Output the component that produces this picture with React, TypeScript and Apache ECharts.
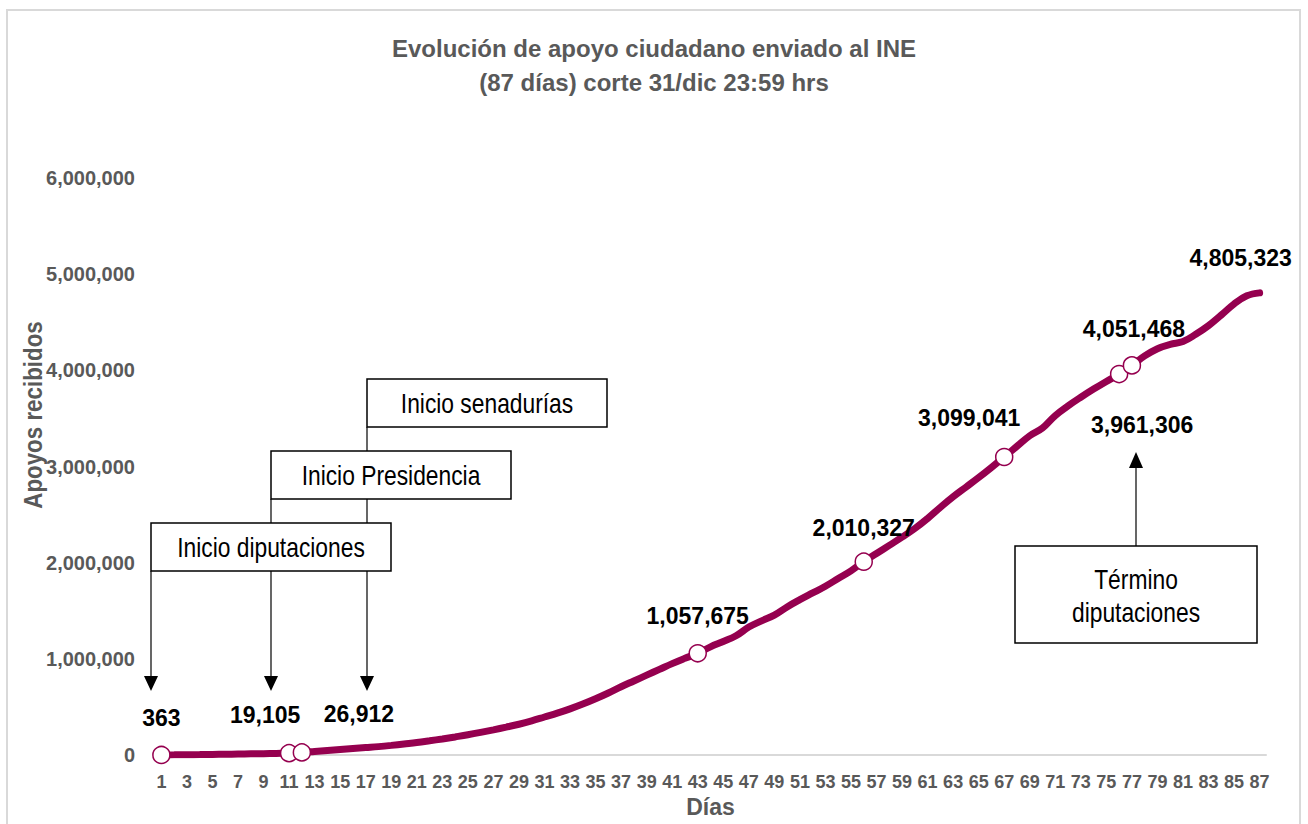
import React, { useEffect, useRef } from "react";
import * as echarts from "echarts";

const titleLines = ["Evolución de apoyo ciudadano enviado al INE", "(87 días) corte 31/dic 23:59 hrs"];
const yAxisName = "Apoyos recibidos";
const xAxisName = "Días";

const days = Array.from({ length: 87 }, (_, i) => String(i + 1));

const apoyos = [
  363, 1500, 3000, 4600, 6300, 8000, 9900, 11900, 14100, 16500,
  19105, 26912, 37000, 47000, 57000, 67000, 77000, 87000, 100000, 115000,
  130000, 148000, 167000, 188000, 210000, 235000, 262000, 290000, 320000, 355000,
  395000, 435000, 480000, 530000, 585000, 645000, 710000, 770000, 830000, 890000,
  950000, 1005000, 1057675, 1125000, 1180000, 1240000, 1330000, 1395000, 1455000, 1540000,
  1615000, 1685000, 1755000, 1835000, 1915000, 2010327, 2095000, 2180000, 2265000, 2355000,
  2460000, 2575000, 2685000, 2785000, 2885000, 2990000, 3099041, 3210000, 3320000, 3400000,
  3530000, 3630000, 3720000, 3805000, 3885000, 3961306, 4051468, 4150000, 4225000, 4270000,
  4300000, 4375000, 4465000, 4575000, 4690000, 4775000, 4805323,
];

const markerDays = [1, 11, 12, 43, 56, 67, 76, 77];
const labelDays = [1, 11, 12, 43, 56, 67, 76, 77, 87];

const yMin = 0;
const yMax = 6000000;
const yStep = 1000000;

// label offsets (layout only)
const labelOffsets: Record<number, [number, number]> = {
  1: [0, -37],
  11: [-24, -38],
  12: [57, -38],
  43: [0, -37],
  56: [0, -34],
  67: [-35, -39],
  76: [23, 51],
  77: [2, -36],
  87: [-19, -35],
};

const LINE = "#95004F";
const GRAY = "#595959";
const ARIAL = '"Liberation Sans", Arial, sans-serif';

const fmt = (v: number) => v.toLocaleString("en-US");

export default function App() {
  const ref = useRef<HTMLDivElement>(null);
  useEffect(() => {
    if (!ref.current) return;
    const chart = echarts.init(ref.current, undefined, { renderer: "svg" });

    const data = apoyos.map((v, i) => {
      const day = i + 1;
      const isMarker = markerDays.includes(day);
      const hasLabel = labelDays.includes(day);
      const item: any = { value: v };
      if (isMarker) {
        item.symbol = "circle";
        item.symbolSize = 17;
        item.itemStyle = { color: "#ffffff", borderColor: LINE, borderWidth: 1.5 };
      } else if (hasLabel) {
        item.symbol = "circle";
        item.symbolSize = 1;
        item.itemStyle = { color: LINE, borderWidth: 0 };
      } else {
        item.symbol = "none";
      }
      if (hasLabel) {
        item.label = {
          show: true,
          position: "inside",
          offset: labelOffsets[day],
          formatter: fmt(v),
          fontFamily: ARIAL,
          fontWeight: "bold",
          fontSize: 23,
          color: "#000000",
        };
      }
      return item;
    });

    const box = (x: number, y: number, w: number, h: number) => ({
      type: "rect",
      shape: { x, y, width: w, height: h },
      style: { fill: "#ffffff", stroke: "#000000", lineWidth: 1.5 },
      z: 10,
    });
    const vline = (x: number, y1: number, y2: number) => ({
      type: "line",
      shape: { x1: x, y1, x2: x, y2 },
      style: { stroke: "#000000", lineWidth: 1.2 },
      z: 10,
    });
    const arrowDown = (x: number, y: number) => ({
      type: "polygon",
      shape: { points: [[x - 7, y], [x + 7, y], [x, y + 15]] },
      style: { fill: "#000000" },
      z: 10,
    });
    const boxText = (x: number, y: number, t: string) => ({
      type: "text",
      x,
      y,
      scaleX: 0.845,
      style: {
        text: t,
        fontFamily: ARIAL,
        fontSize: 27,
        fill: "#000000",
        align: "center",
        verticalAlign: "middle",
        lineHeight: 33,
      },
      z: 11,
    });

    chart.setOption({
      animation: false,
      backgroundColor: "#ffffff",
      title: {
        text: titleLines.join("\n"),
        left: "center",
        top: 31,
        padding: 0,
        textStyle: {
          fontFamily: ARIAL,
          fontWeight: "bold",
          fontSize: 24,
          color: GRAY,
          lineHeight: 34,
        },
      },
      grid: { left: 155, width: 1111, top: 178, height: 577, containLabel: false },
      xAxis: {
        type: "category",
        data: days,
        boundaryGap: true,
        name: xAxisName,
        nameLocation: "middle",
        nameGap: 38,
        nameTextStyle: { fontFamily: ARIAL, fontWeight: "bold", fontSize: 23, color: GRAY },
        axisLine: { show: true, lineStyle: { color: "#d9d9d9", width: 2 } },
        axisTick: { show: false },
        axisLabel: {
          interval: 1,
          margin: 18,
          fontFamily: ARIAL,
          fontWeight: "bold",
          fontSize: 18,
          color: GRAY,
        },
        splitLine: { show: false },
      },
      yAxis: {
        type: "value",
        min: yMin,
        max: yMax,
        interval: yStep,
        axisLine: { show: false },
        axisTick: { show: false },
        splitLine: { show: false },
        axisLabel: {
          margin: 20,
          formatter: (v: number) => fmt(v),
          fontFamily: ARIAL,
          fontWeight: "bold",
          fontSize: 20,
          color: GRAY,
        },
      },
      series: [
        {
          type: "line",
          data,
          smooth: 0.4,
          showSymbol: true,
          showAllSymbol: true,
          lineStyle: { color: LINE, width: 7, cap: "round" },
          itemStyle: { color: LINE },
          z: 3,
        },
      ],
      graphic: [
        {
          type: "rect",
          shape: { x: 7, y: 10, width: 1293, height: 830 },
          style: { fill: "none", stroke: "#d9d9d9", lineWidth: 2 },
          silent: true,
          z: 0,
        },
        {
          type: "text",
          x: 33,
          y: 415,
          rotation: Math.PI / 2,
          scaleX: 0.86,
          style: {
            text: yAxisName,
            fontFamily: ARIAL,
            fontWeight: "bold",
            fontSize: 26,
            fill: GRAY,
            align: "center",
            verticalAlign: "middle",
          },
        },
        vline(367, 427, 451),
        vline(271, 499, 523),
        vline(367, 499, 523),
        vline(151, 571, 677),
        vline(271, 571, 677),
        vline(367, 571, 677),
        arrowDown(151, 676),
        arrowDown(271, 676),
        arrowDown(367, 676),
        box(367, 379, 240, 48),
        box(271, 451, 240, 48),
        box(151, 523, 240, 48),
        boxText(487, 403, "Inicio senadurías"),
        boxText(391, 475, "Inicio Presidencia"),
        boxText(271, 547, "Inicio diputaciones"),
        vline(1136, 468, 546),
        {
          type: "polygon",
          shape: { points: [[1129, 468], [1143, 468], [1136, 452]] },
          style: { fill: "#000000" },
          z: 10,
        },
        box(1015, 546, 242, 97),
        boxText(1136, 596, "Término\ndiputaciones"),
      ],
    });
    return () => chart.dispose();
  }, []);
  return (
    <div
      ref={ref}
      style={{ position: "fixed", left: 0, top: 0, width: 1308, height: 824 }}
    />
  );
}
